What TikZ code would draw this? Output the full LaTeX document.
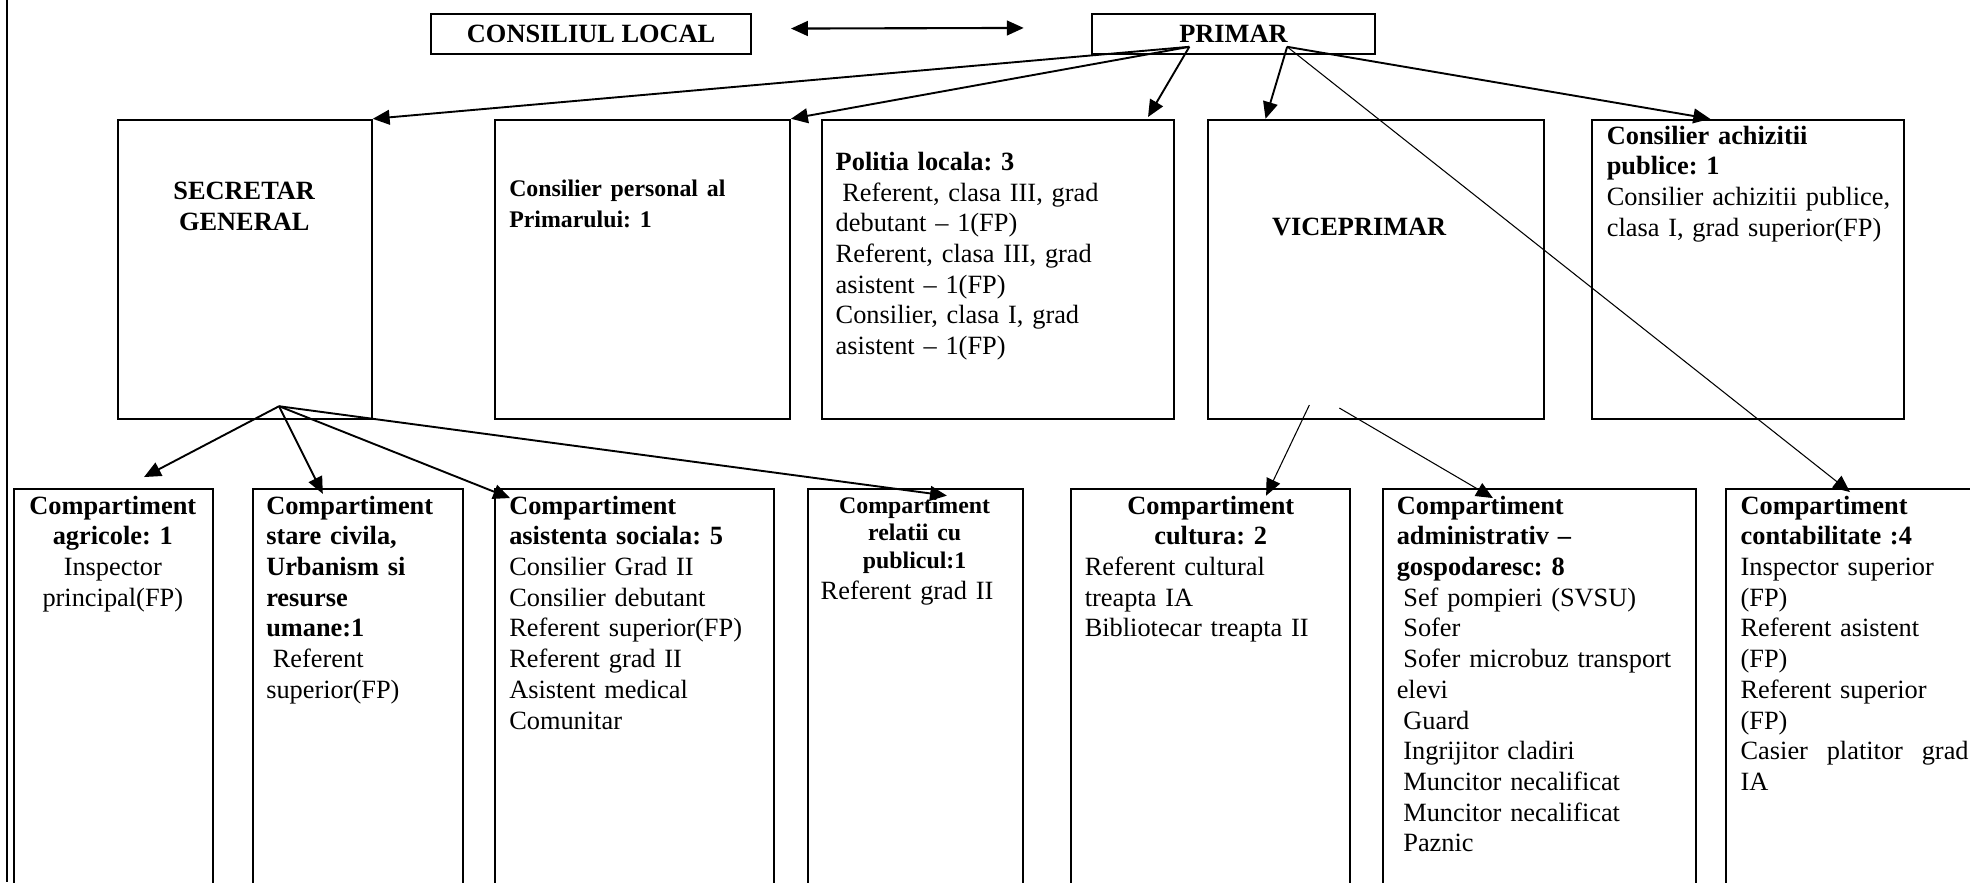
\documentclass[tikz,border=0pt]{standalone}
\usepackage{fontspec}
\setmainfont{Liberation Serif}
\usetikzlibrary{arrows.meta,calc}
\newcommand{\smallbf}{\fontsize{11.3}{13.2}\selectfont\bfseries}
\newcommand{\padl}{\hspace*{0.25em}}
\frenchspacing

\begin{document}
\begin{tikzpicture}[
  box/.style={rectangle, draw, line width=0.9pt, anchor=north west, inner sep=0pt, font=\fontsize{12.5}{14.55}\selectfont\bfseries},
  txt/.style={inner sep=0pt, anchor=base west, align=left, font=\fontsize{12.5}{14.55}\selectfont},
  e/.style={->, line width=0.9pt, >={Triangle[length=8pt,width=7pt]}},
  en/.style={e, line width=0.5pt}
]
\useasboundingbox (0,0) rectangle (32.83,-14.7);
\fill[white] (0,0) rectangle (32.83,-14.7);
\draw[line width=0.9pt] (0.12,0) -- (0.12,-14.7);

\node[box, minimum width=5.33cm, minimum height=0.66cm] (cl) at (7.17,-0.22) {CONSILIUL LOCAL};
\node[box, minimum width=4.72cm, minimum height=0.66cm] (pr) at (18.18,-0.22) {PRIMAR};

\node[box, minimum width=4.23cm, minimum height=4.98cm] (sec) at (1.95,-1.98) {};
\node[box, minimum width=4.92cm, minimum height=4.98cm] (cp) at (8.23,-1.98) {};
\node[box, minimum width=5.87cm, minimum height=4.98cm] (pol) at (13.68,-1.98) {};
\node[box, minimum width=5.6cm, minimum height=4.98cm] (vp) at (20.12,-1.98) {};
\node[box, minimum width=5.2cm, minimum height=4.98cm] (ach) at (26.52,-1.98) {};

\node[box, minimum width=3.32cm, minimum height=7.5cm] (agr) at (0.22,-8.13) {};
\node[box, minimum width=3.5cm, minimum height=7.5cm] (civ) at (4.2,-8.13) {};
\node[box, minimum width=4.65cm, minimum height=7.5cm] (asis) at (8.23,-8.13) {};
\node[box, minimum width=3.58cm, minimum height=7.5cm] (rel) at (13.45,-8.13) {};
\node[box, minimum width=4.65cm, minimum height=7.5cm] (cul) at (17.83,-8.13) {};
\node[box, minimum width=5.22cm, minimum height=7.5cm] (adm) at (23.03,-8.13) {};
\node[box, minimum width=6cm, minimum height=7.5cm] (cont) at (28.75,-8.13) {};

\node[txt, anchor=base, align=center, text width=3.9cm] (sec-t) at (4.07,-3.33) {\bfseries SECRETAR\\ GENERAL};
\node[txt, text width=4.5cm] (cp-t) at (8.48,-3.28) {\smallbf Consilier personal al\\ Primarului: 1};
\node[txt, text width=5.5cm] (pol-t) at (13.92,-2.84) {\textbf{Politia locala: 3}\\ \padl Referent, clasa III, grad\\ debutant – 1(FP)\\ Referent, clasa III, grad\\ asistent – 1(FP)\\ Consilier, clasa I, grad\\ asistent – 1(FP)};
\node[txt, anchor=base, align=center, text width=5cm] (vp-t) at (22.65,-3.92) {\bfseries VICEPRIMAR};
\node[txt, text width=4.9cm] (ach-t) at (26.77,-2.4) {\textbf{Consilier achizitii}\\ \textbf{publice: 1}\\ Consilier achizitii publice,\\ clasa I, grad superior(FP)};

\node[txt, anchor=base, align=center, text width=3.1cm] (agr-t) at (1.88,-8.57) {\textbf{Compartiment}\\ \textbf{agricole: 1}\\ Inspector\\ principal(FP)};
\node[txt, text width=3.2cm] (civ-t) at (4.43,-8.57) {\bfseries Compartiment\\ stare civila,\\ Urbanism si\\ resurse\\ umane:1\\ \mdseries\padl Referent\\ superior(FP)};
\node[txt, text width=4.4cm] (asis-t) at (8.48,-8.57) {\bfseries Compartiment\\ asistenta sociala: 5\\ \mdseries Consilier Grad II\\ Consilier debutant\\ Referent superior(FP)\\ Referent grad II\\ Asistent medical\\ Comunitar};
\node[txt, text width=3.13cm] (rel-t) at (13.67,-8.55) {{\centering\smallbf Compartiment\\ relatii cu\\ publicul:1\par}Referent grad II};
\node[txt, text width=4.2cm] (cul-t) at (18.07,-8.57) {{\centering\bfseries Compartiment\\ cultura: 2\par}Referent cultural\\ treapta IA\\ Bibliotecar treapta II};
\node[txt, text width=4.9cm] (adm-t) at (23.27,-8.57) {\bfseries Compartiment\\ administrativ –\\ gospodaresc: 8\\ \mdseries\padl Sef pompieri (SVSU)\\ \padl Sofer\\ \padl Sofer microbuz transport\\ elevi\\ \padl Guard\\ \padl Ingrijitor cladiri\\ \padl Muncitor necalificat\\ \padl Muncitor necalificat\\ \padl Paznic};
\node[txt, text width=4.0cm] (cont-t) at (29.0,-8.57) {\bfseries Compartiment\\ contabilitate :4\\ \mdseries Inspector superior\\ (FP)\\ Referent asistent\\ (FP)\\ Referent superior\\ (FP)\\ \leavevmode\hbox to 3.8cm{Casier\hfill platitor\hfill grad}\\ IA};

\coordinate (pa) at (19.82,-0.78);
\coordinate (pb) at (21.45,-0.78);
\coordinate (sa) at (4.65,-6.77);
\coordinate (va) at (21.82,-6.75);
\coordinate (vb) at (22.32,-6.8);

\draw[e, <->, line width=1pt] ($(cl.east)+(0.65,0.09)$) -- ($(pr.west)+(-1.12,0.1)$);

\draw[e] (pa) -- (sec.north east);
\draw[e] (pa) -- (cp.north east);
\draw[e] (pa) -- ($(pol.north east)+(-0.45,0.03)$);
\draw[e] (pb) -- ($(vp.north west)+(0.97,0)$);
\draw[e] (pb) -- ($(ach.north west)+(1.98,0)$);
\draw[en] (pb) -- ($(cont.north west)+(2.08,-0.07)$);

\draw[e] (sa) -- ($(agr.north west)+(2.18,0.18)$);
\draw[e] (sa) -- ($(civ.north west)+(1.18,-0.1)$);
\draw[e] (sa) -- ($(asis.north west)+(0.27,-0.17)$);
\draw[e] (sa) -- ($(rel.north west)+(2.33,-0.13)$);

\draw[en] (va) -- ($(cul.north west)+(3.27,-0.13)$);
\draw[en] (vb) -- ($(adm.north west)+(1.85,-0.17)$);
\end{tikzpicture}
\end{document}
